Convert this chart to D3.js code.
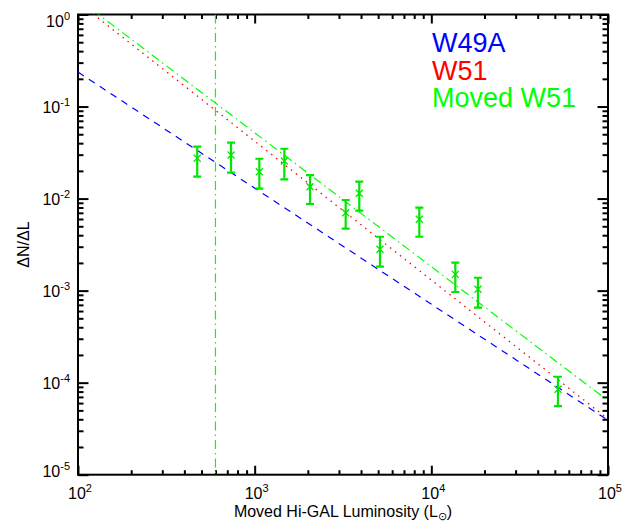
<!DOCTYPE html>
<html>
<head>
<meta charset="utf-8">
<script src="https://cdn.jsdelivr.net/npm/d3@7"></script>
<style>
  body { margin: 0; background: #fff; }
  svg { display: block; font-family: "Liberation Sans", Arial, Helvetica, sans-serif; }
</style>
</head>
<body>
<div id="canvas"></div>
<script>
// data (luminosity in L_sun, dN/dL)
const lum = [473, 735, 1063, 1472, 2057, 3275, 3910, 5120, 8550, 13670, 18370, 52100]
const dndl = [0.0274, 0.0297, 0.0196, 0.0256, 0.01346, 0.00703, 0.01141, 0.00281, 0.00596, 0.00150, 0.001033, 0.0000847]
const errHi = [0.0366, 0.0405, 0.0271, 0.0348, 0.0180, 0.00965, 0.01525, 0.00385, 0.00796, 0.00201, 0.00138, 0.000116]
const errLo = [0.0173, 0.0191, 0.0128, 0.0162, 0.00873, 0.00471, 0.00738, 0.00182, 0.00385, 0.000966, 0.000652, 0.0000557]

// power-law fits, evaluated at the ends of the x range
const fitL = [1e2, 1e5]
const w49a = [0.237, 3.9e-5]
const w51 = [1.36, 4.03e-5]
const movedW51 = [1.48, 6.38e-5]
const cutoffL = 600

const legendNames = ['W49A', 'W51', 'Moved W51']
const legendColors = ['#0000ff', '#ff0000', '#00ff00']

const xMajor = [1e2, 1e3, 1e4, 1e5]
const xExp = ['2', '3', '4', '5']
const yMajor = [1e-5, 1e-4, 1e-3, 1e-2, 1e-1, 1]
const yExp = ['-5', '-4', '-3', '-2', '-1', '0']

const width = 633
const height = 522
const pLeft = 78
const pRight = 608
const pTop = 14.5
const pBottom = 474.7

const x = d3.scaleLog().domain([1e2, 1e5]).range([pLeft, pRight])
const y = d3.scaleLog().domain([1e-5, 1]).range([pBottom, pTop])

const minorOf = function (majors) {
  let out = []
  majors.slice(0, -1).forEach(m => {
    for (let k = 2; k <= 9; k++) out.push(m * k)
  })
  return out
}
const xMinor = minorOf(xMajor)
const yMinor = minorOf(yMajor)

let svg = d3.select('#canvas').append('svg')
  .attr('width', width)
  .attr('height', height)

svg.append('defs').append('clipPath').attr('id', 'plot')
  .append('rect')
  .attr('x', pLeft).attr('y', pTop)
  .attr('width', pRight - pLeft).attr('height', pBottom - pTop)

// ticks (all pointing inward)
const tickAxis = function (axis, tx, ty) {
  let g = svg.append('g')
    .attr('transform', `translate(${tx},${ty})`)
    .call(axis)
  g.select('.domain').remove()
  g.selectAll('line').attr('stroke', '#000').attr('stroke-width', 2)
  g.selectAll('text').remove()
}
tickAxis(d3.axisBottom(x).tickValues(xMajor).tickSize(-9), 0, pBottom)
tickAxis(d3.axisBottom(x).tickValues(xMinor).tickSize(-4.5), 0, pBottom)
tickAxis(d3.axisTop(x).tickValues(xMajor).tickSize(-9), 0, pTop)
tickAxis(d3.axisTop(x).tickValues(xMinor).tickSize(-4.5), 0, pTop)
tickAxis(d3.axisLeft(y).tickValues(yMajor).tickSize(-10.5), pLeft, 0)
tickAxis(d3.axisLeft(y).tickValues(yMinor).tickSize(-5.5), pLeft, 0)
tickAxis(d3.axisRight(y).tickValues(yMajor).tickSize(-10.5), pRight, 0)
tickAxis(d3.axisRight(y).tickValues(yMinor).tickSize(-5.5), pRight, 0)

// frame
svg.append('rect')
  .attr('x', pLeft).attr('y', pTop)
  .attr('width', pRight - pLeft).attr('height', pBottom - pTop)
  .attr('fill', 'none')
  .attr('stroke', '#000')
  .attr('stroke-width', 2)

// tick labels with superscript exponents
xMajor.forEach((v, i) => {
  let t = svg.append('text')
    .attr('x', x(v) + 2)
    .attr('y', 498.5)
    .attr('text-anchor', 'middle')
    .attr('font-size', 16)
  t.append('tspan').text('10')
  t.append('tspan').attr('dy', -7).attr('font-size', 11).text(xExp[i])
})
yMajor.forEach((v, i) => {
  // IDL nudges the end labels to stay inside the box
  let shift = (v === 1) ? 12 : (v === 1e-5 ? 2 : 6.5)
  let t = svg.append('text')
    .attr('x', 70)
    .attr('y', y(v) + shift)
    .attr('text-anchor', 'end')
    .attr('font-size', 16)
  t.append('tspan').text('10')
  t.append('tspan').attr('dy', -7).attr('font-size', 11).text(yExp[i])
})

// axis titles
let xt = svg.append('text')
  .attr('x', (pLeft + pRight) / 2)
  .attr('y', 516.5)
  .attr('text-anchor', 'middle')
  .attr('font-size', 16)
xt.append('tspan').text('Moved Hi-GAL Luminosity (L')
xt.append('tspan').attr('dy', 3).attr('font-size', 11).text('\u2299')
xt.append('tspan').attr('dy', -3).text(')')

svg.append('text')
  .attr('transform', `translate(29,${(pTop + pBottom) / 2}) rotate(-90)`)
  .attr('text-anchor', 'middle')
  .attr('font-size', 16)
  .text('\u0394N/\u0394L')

// fit lines
let plot = svg.append('g').attr('clip-path', 'url(#plot)')
const line = d3.line().x(d => x(d[0])).y(d => y(d[1]))

plot.append('path')
  .datum(d3.zip(fitL, w49a))
  .attr('d', line)
  .attr('fill', 'none')
  .attr('stroke', '#0000ff')
  .attr('stroke-width', 1.2)
  .attr('stroke-dasharray', '7,6')

plot.append('path')
  .datum(d3.zip(fitL, w51))
  .attr('d', line)
  .attr('fill', 'none')
  .attr('stroke', '#ff0000')
  .attr('stroke-width', 1.3)
  .attr('stroke-dasharray', '1.5,4.8')

plot.append('path')
  .datum(d3.zip(fitL, movedW51))
  .attr('d', line)
  .attr('fill', 'none')
  .attr('stroke', '#00ff00')
  .attr('stroke-width', 1.2)
  .attr('stroke-dasharray', '9,4,1.5,4')

// vertical completeness limit
plot.append('line')
  .attr('x1', x(cutoffL)).attr('x2', x(cutoffL))
  .attr('y1', pTop).attr('y2', pBottom)
  .attr('stroke', '#00ff00')
  .attr('stroke-width', 1.2)
  .attr('stroke-dasharray', '9,4,1.5,4')

// error bars and x markers
const pts = lum.map((l, i) => ({ l: l, v: dndl[i], hi: errHi[i], lo: errLo[i] }))
const green = '#00e600'
let eb = plot.selectAll('.err').data(pts).enter().append('g').attr('class', 'err')
eb.append('line')
  .attr('x1', d => x(d.l)).attr('x2', d => x(d.l))
  .attr('y1', d => y(d.hi)).attr('y2', d => y(d.lo))
  .attr('stroke', green).attr('stroke-width', 2.2)
eb.append('line')
  .attr('x1', d => x(d.l) - 4).attr('x2', d => x(d.l) + 4)
  .attr('y1', d => y(d.hi)).attr('y2', d => y(d.hi))
  .attr('stroke', green).attr('stroke-width', 2.2)
eb.append('line')
  .attr('x1', d => x(d.l) - 4).attr('x2', d => x(d.l) + 4)
  .attr('y1', d => y(d.lo)).attr('y2', d => y(d.lo))
  .attr('stroke', green).attr('stroke-width', 2.2)
eb.append('path')
  .attr('d', d => {
    const cx = x(d.l)
    const cy = y(d.v)
    const s = 3.5
    return `M${cx - s},${cy - s}L${cx + s},${cy + s}M${cx - s},${cy + s}L${cx + s},${cy - s}`
  })
  .attr('stroke', green).attr('stroke-width', 1.3).attr('fill', 'none')

// legend
legendNames.forEach((name, i) => {
  svg.append('text')
    .attr('x', 432)
    .attr('y', 51.7 + i * 27.8)
    .attr('font-size', 27)
    .attr('fill', legendColors[i])
    .text(name)
})
</script>
</body>
</html>
